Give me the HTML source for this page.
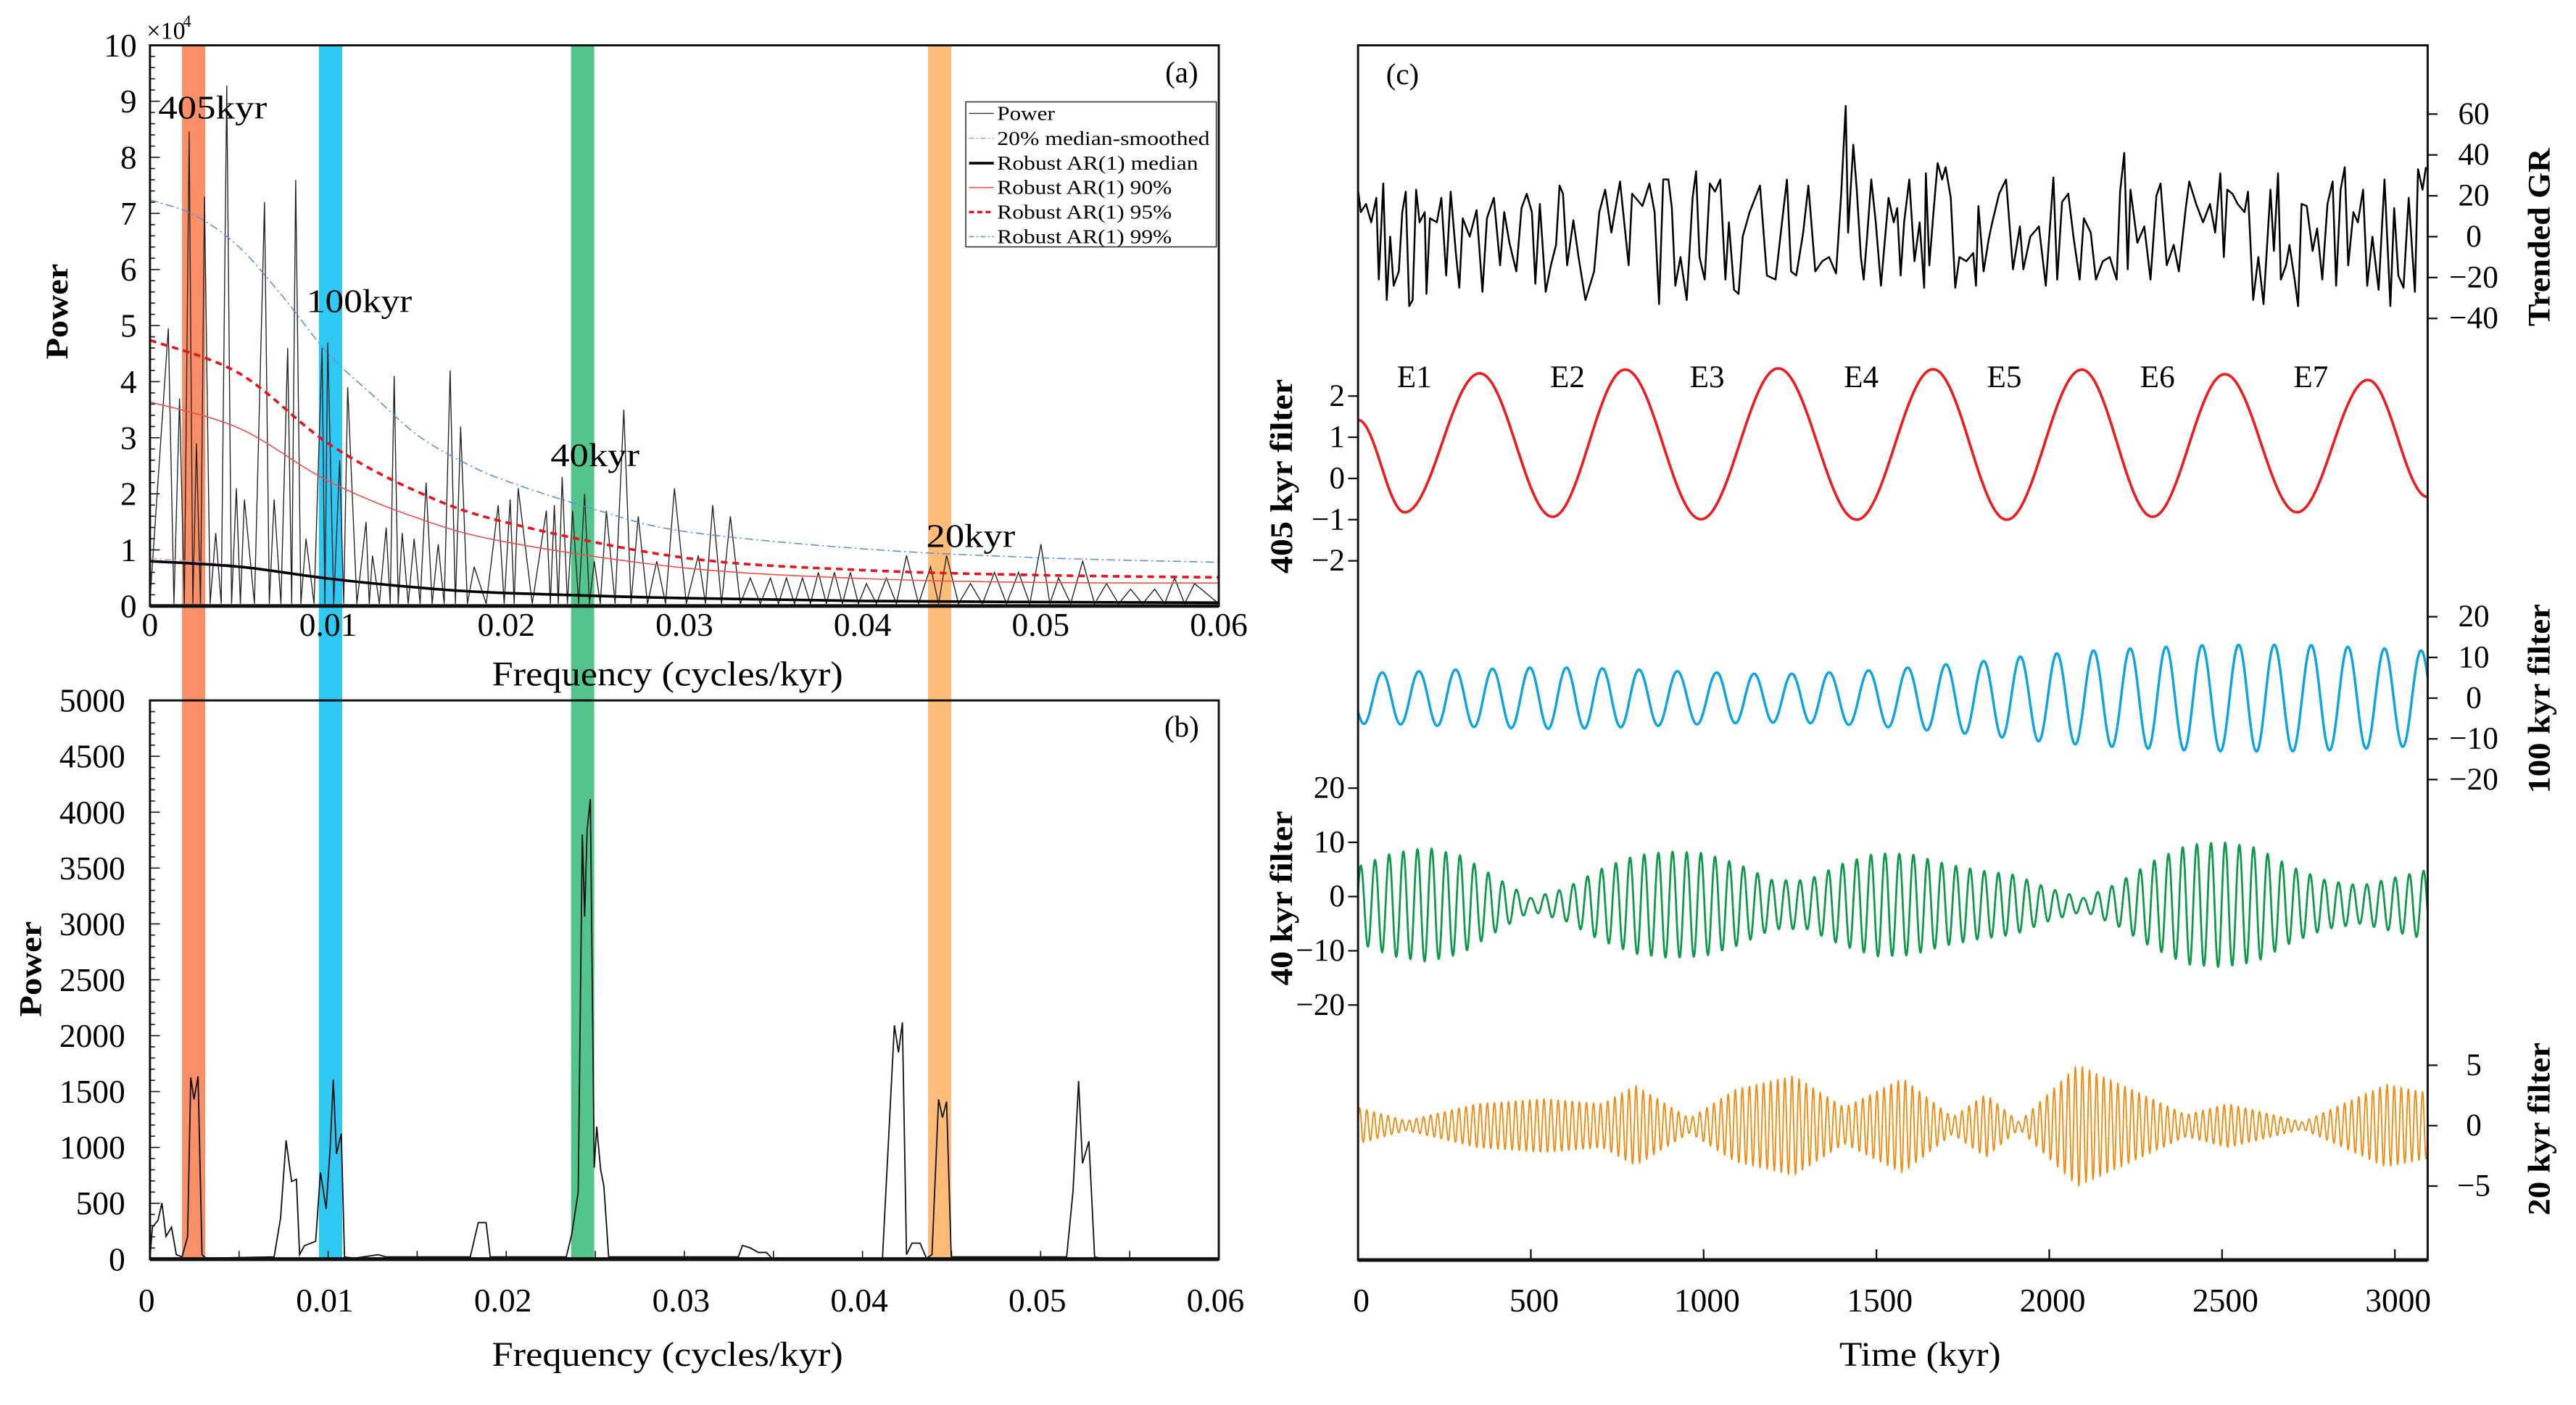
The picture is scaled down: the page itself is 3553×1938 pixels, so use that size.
<!DOCTYPE html>
<html><head><meta charset="utf-8"><style>
html,body{margin:0;padding:0;background:#fff;}
svg{display:block;}
text{font-family:"Liberation Serif","Times New Roman",serif;fill:#000;}
</style></head><body>
<svg id="svg" xmlns="http://www.w3.org/2000/svg" width="3553" height="1938" viewBox="0 0 1563 852.5" preserveAspectRatio="none"></svg>
<script>
// ---------- DATA ----------
// panel (a) power spectrum peaks (freq, power x1e4)
const peakF=[0.00103,0.00166,0.0022,0.00261,0.00306,0.00369,0.00431,0.00485,0.0053,0.00643,0.00697,0.00773,0.00818,0.00876,0.00966,0.00998,0.01065,0.0111,0.01213,0.01249,0.01326,0.01371,0.01416,0.01483,0.0155,0.01618,0.01685,0.01744,0.0182,0.01955,0.02022,0.02067,0.02225,0.0227,0.02314,0.02373,0.0244,0.02494,0.02562,0.0266,0.02741,0.02845,0.02944,0.03078,0.03159,0.03258,0.0337,0.03483,0.03573,0.03663,0.03752,0.03842,0.03932,0.04022,0.04134,0.04247,0.04382,0.04472,0.04606,0.04741,0.04876,0.05002,0.05101,0.05236,0.0537,0.05505,0.0564,0.05752,0.05864];
const peakP=[4.95,3.7,8.46,2.9,7.3,1.3,9.28,2.1,1.9,7.2,1.9,4.6,7.6,1.2,4.6,4.7,2.6,3.9,1.5,0.9,1.4,4.1,1.3,1.2,2.2,1.1,4.2,3.2,0.7,1.8,1.9,2.1,1.7,1.8,2.3,1.7,2.0,0.8,1.7,3.5,1.6,0.8,2.1,0.9,1.8,1.6,0.5,0.5,0.5,0.5,0.6,0.6,0.6,0.4,0.5,0.9,0.7,0.9,0.4,0.6,0.6,1.1,0.5,0.8,0.4,0.3,0.3,0.5,0.4];
const cF99=[0,0.0025,0.005,0.0075,0.01,0.0125,0.015,0.0175,0.02,0.025,0.03,0.04,0.05,0.06];
const c99=[7.24,6.97,6.4,5.5,4.5,3.76,3.05,2.58,2.23,1.72,1.33,1.02,0.86,0.78];
const cF=[0,0.005,0.01,0.015,0.02,0.03,0.04,0.05,0.06];
const c95=[4.74,4.15,2.9,2.04,1.49,0.86,0.64,0.55,0.51];
const c90=[3.64,3.17,2.23,1.57,1.14,0.68,0.49,0.42,0.41];
const cMed=[0.8,0.7,0.49,0.33,0.23,0.14,0.09,0.07,0.06];
const cSmooth=[0.85,0.72,0.5,0.33,0.22,0.14,0.09,0.07,0.06];
// panel (b)
const bF=[0,0.000135,0.00045,0.00067,0.0009,0.00121,0.00148,0.0018,0.00211,0.00229,0.00247,0.0027,0.00292,0.00315,0.00697,0.00733,0.00764,0.00795,0.00822,0.0084,0.00867,0.0093,0.00957,0.00989,0.01011,0.01029,0.01047,0.01074,0.01092,0.01146,0.01281,0.01326,0.01798,0.01843,0.01887,0.0191,0.02337,0.02368,0.02404,0.02427,0.0244,0.02454,0.02472,0.02494,0.02508,0.0253,0.02548,0.02575,0.03303,0.03326,0.03371,0.03415,0.0346,0.03492,0.04112,0.04179,0.04202,0.04224,0.04247,0.04278,0.04323,0.04359,0.0439,0.04427,0.04449,0.04472,0.04498,0.05146,0.05182,0.05213,0.05235,0.05271,0.05303,0.05348,0.06];
const bP=[10,286,347,503,204,286,40,20,200,1627,1430,1635,40,8,20,368,1063,695,715,40,120,160,777,450,980,1607,940,1124,20,8,40,20,20,327,327,20,20,225,600,3800,3066,3843,4117,818,1186,800,654,20,20,123,100,60,60,8,8,2093,1850,2118,40,143,143,8,40,1430,1267,1410,20,20,613,1594,858,1055,20,5,5];
const bandF=[[0.0018,0.0031],[0.00948,0.01079],[0.02364,0.02494],[0.04368,0.04498]];
const bandC=["#fa8f68","#2ec8f3","#52c48c","#fdbd78"];
const aTicksY=[0,1,2,3,4,5,6,7,8,9,10];
const bTicksY=[0,500,1000,1500,2000,2500,3000,3500,4000,4500,5000];
const fTicks=[0,0.01,0.02,0.03,0.04,0.05,0.06];
const fTickLabels=["0","0.01","0.02","0.03","0.04","0.05","0.06"];
// panel (c)
const grT=[0,8,23,38,53,60,73,83,93,103,118,128,138,148,158,168,178,193,198,208,228,241,255,268,283,293,303,323,343,360,373,393,411,423,438,458,473,488,503,513,526,543,558,573,583,593,605,623,638,658,683,698,715,733,758,783,793,823,843,858,871,883,898,908,918,933,951,968,978,988,1003,1018,1033,1048,1063,1073,1088,1101,1113,1133,1163,1183,1208,1228,1241,1253,1268,1288,1303,1323,1343,1363,1383,1398,1411,1418,1433,1443,1455,1463,1473,1485,1498,1513,1535,1550,1560,1570,1580,1595,1610,1625,1638,1643,1653,1665,1677,1690,1700,1715,1728,1740,1760,1780,1788,1795,1810,1825,1835,1855,1875,1895,1915,1925,1945,1970,1990,2012,2023,2037,2055,2070,2088,2100,2120,2135,2155,2175,2195,2205,2217,2227,2235,2255,2275,2293,2310,2322,2340,2360,2375,2395,2405,2425,2445,2465,2480,2495,2505,2515,2530,2545,2565,2575,2590,2605,2620,2640,2650,2662,2670,2685,2695,2710,2720,2730,2745,2762,2775,2790,2805,2820,2830,2843,2855,2865,2880,2893,2908,2920,2935,2953,2970,2987,2998,3010,3025,3040,3058,3067,3080,3090];
const grV=[23,12,16,7,19,-21,26,-31,0,-24,-17,12,22,-34,-31,23,7,12,-28,9,7,19,-19,22,-8,-25,9,0,13,-27,9,19,-14,12,-3,-17,14,21,12,-23,16,-27,-14,-4,25,21,-14,8,-10,-31,-17,12,23,2,27,-14,21,15,26,12,-33,28,28,14,-24,-10,-31,19,32,-10,-21,26,22,28,-21,7,-26,-28,0,12,25,-19,-21,9,28,-17,-19,2,25,-17,-12,-10,-18,21,64,2,45,23,-10,-21,0,28,7,-24,19,7,14,-19,7,28,-12,7,-25,31,-14,12,36,28,34,19,-25,-10,-12,-8,-24,15,-17,-1,7,21,28,-16,5,-16,0,5,-24,29,-21,17,21,0,-21,9,2,-21,-12,-10,-21,22,41,-16,23,-3,5,-21,20,26,-14,-4,-17,14,27,16,7,16,2,31,-10,23,21,16,12,22,-31,-10,-33,23,-7,31,-21,-14,-4,-21,-34,16,15,-7,4,-21,16,27,-24,23,34,-14,12,7,23,-24,0,-26,28,-34,14,-19,-25,19,-27,33,23,34];
const f405T=[0,135,352,563,773,992,1216,1443,1664,1877,2094,2299,2508,2717,2922,3095];
const f405V=[1.42,-0.82,2.55,-0.93,2.64,-0.99,2.67,-1.0,2.65,-1.0,2.64,-0.93,2.53,-0.82,2.39,-0.45];
const pk100T=[70,176,282,389,497,603,707,813,924,1038,1146,1255,1363,1477,1590,1701,1810,1916,2022,2128,2234,2338,2442,2548,2651,2758,2864,2970,3076];
const pk100A=[6.3,6.6,7,7.2,7.5,7.5,7.3,7,6.6,6.3,6.0,6.0,6.3,6.8,7.5,8.3,9.1,10.2,11,11.7,12.2,12.6,13,13.1,13.1,13,12.6,12.2,11.7];
const env40T=[0,100,200,300,400,500,600,700,800,900,1000,1100,1200,1300,1400,1500,1600,1700,1800,1900,2000,2100,2200,2300,2400,2500,2600,2700,2800,2900,3000,3100];
const env40A=[7,9.5,10.5,9,5,1.2,3,6.5,9,9.8,9.5,7.5,4.5,4.5,7.5,9.5,9.3,7.5,6.3,5.5,3,1.2,4,8,11,11.5,10.5,7,4.5,3.5,5,6.5];
const period40=41, phase40=8, mean40=-1.5;
const env20T=[0,140,345,538,707,803,960,1093,1262,1407,1576,1720,1817,1913,2082,2275,2396,2516,2733,2975,3095];
const env20A=[1.5,0.4,1.8,2.2,1.8,3.3,0.6,3,4.1,1.5,3.9,0.7,2.6,0.3,5,2.5,0.9,1.8,0.3,3.4,2.7];
const period20=20.5, phase20=5;
const timeTicks=[0,500,1000,1500,2000,2500,3000];
const grTicks=[60,40,20,0,-20,-40];
const t405Ticks=[2,1,0,-1,-2];
const t100Ticks=[20,10,0,-10,-20];
const t40Ticks=[20,10,0,-10,-20];
const t20Ticks=[5,0,-5];
const eLabels=["E1","E2","E3","E4","E5","E6","E7"];
const eLabelT=[163,606,1010,1456,1870,2313,2757];

// ---------- SCALES ----------
const fx=f=>91+f/0.06*648.5;
const ya=v=>367.7-v*34.03;
const yb=v=>764-v*339/5000;
const tx=t=>824+t*0.2097;
const yGR=v=>143.6-v*1.24;
const y405=v=>290.3-v*25;
const y100=v=>423.6-v*2.47;
const y40=v=>544-v*3.29;
const y20=v=>683-v*7.33;

const NS="http://www.w3.org/2000/svg";
const svg=document.getElementById('svg');
function mk(tag,parent){const e=document.createElementNS(NS,tag);(parent||svg).appendChild(e);return e;}
function set(e,o){for(const k in o)e.setAttribute(k,o[k]);return e;}
function lin(pts){return pts.map((p,i)=>(i?'L':'M')+p[0].toFixed(2)+' '+p[1].toFixed(2)).join('');}
function smooth(pts){let d='M'+pts[0][0]+' '+pts[0][1];for(let i=0;i<pts.length-1;i++){const p0=pts[Math.max(0,i-1)],p1=pts[i],p2=pts[i+1],p3=pts[Math.min(pts.length-1,i+2)];const c1=[p1[0]+(p2[0]-p0[0])/6,p1[1]+(p2[1]-p0[1])/6],c2=[p2[0]-(p3[0]-p1[0])/6,p2[1]-(p3[1]-p1[1])/6];d+='C'+c1[0].toFixed(2)+' '+c1[1].toFixed(2)+' '+c2[0].toFixed(2)+' '+c2[1].toFixed(2)+' '+p2[0].toFixed(2)+' '+p2[1].toFixed(2);}return d;}
function interp(T,A,t){if(t<=T[0])return A[0];for(let i=0;i<T.length-1;i++){if(t<=T[i+1]){const u=(t-T[i])/(T[i+1]-T[i]);return A[i]+(A[i+1]-A[i])*u;}}return A[A.length-1];}
function txt(s,x,y,size,anchor,extra){const e=mk('text');set(e,{x:x,y:y,'font-size':size,'text-anchor':anchor||'middle','dominant-baseline':'central'});if(extra)set(e,extra);e.textContent=s;return e;}

// ---------- BANDS ----------
bandF.forEach((b,i)=>{
  const r=mk('rect');set(r,{x:fx(b[0]),y:27.5,width:fx(b[1])-fx(b[0]),height:736.5,fill:bandC[i]});
  
  
});

// ---------- PANEL A ----------
{
  const pts=[[fx(0),ya(0.1)]];
  for(let i=0;i<peakF.length;i++){
    pts.push([fx(peakF[i]),ya(peakP[i])]);
    const nf=i<peakF.length-1?(peakF[i]+peakF[i+1])/2:0.06;
    pts.push([fx(nf),ya(0.04)]);
  }
  const p=mk('path');set(p,{d:lin(pts),fill:'none',stroke:'#222','stroke-width':0.6});
  
  
  const mkc=(F,V,attrs,name)=>{const c=mk('path');set(c,Object.assign({d:smooth(F.map((f,i)=>[fx(f),ya(V[i])])),fill:'none'},attrs));
    
    };
  mkc(cF99,c99,{stroke:'#5b8fd6','stroke-width':0.7,'stroke-dasharray':'5 2 1 2'},'ar1-99-curve');
  mkc(cF,cSmooth,{stroke:'#e58fc4','stroke-width':0.7,'stroke-dasharray':'4 2 1 2'},'median-smoothed-curve');
  mkc(cF,c90,{stroke:'#f0504a','stroke-width':0.7},'ar1-90-curve');
  mkc(cF,c95,{stroke:'#e8141a','stroke-width':1.6,'stroke-dasharray':'4 3'},'ar1-95-curve');
  mkc(cF,cMed,{stroke:'#000','stroke-width':1.6},'ar1-median-curve');
  const fr=mk('rect');set(fr,{x:91,y:27.5,width:648.5,height:340.2,fill:'none',stroke:'#111','stroke-width':1.3});
  
  
  const bl=mk('line');set(bl,{x1:91,x2:739.5,y1:367.7,y2:367.7,stroke:'#111','stroke-width':2.2});
  
  
  for(let v=0;v<=10.001;v+=0.2){const major=Math.abs(v-Math.round(v))<0.01;const l=mk('line');set(l,{x1:91,x2:91+(major?6:3),y1:ya(v),y2:ya(v),stroke:'#111','stroke-width':0.7});
    
    }
  aTicksY.forEach(v=>{const t=txt(String(v),83,ya(v),20,'end');
    
    });
  const ex=txt('×10',89,19,15,'start');
  
  
  const ex4=txt('4',111,13,10,'start');
  
  
  fTicks.forEach((f,i)=>{const t=txt(fTickLabels[i],fx(f),379,20);
    
    });
  const xt=txt('Frequency (cycles/kyr)',405,409,21,'middle',{textLength:213,lengthAdjust:'spacingAndGlyphs'});
  
  
  const yt=txt('Power',0,0,19,'middle',{transform:'translate(35,189) rotate(-90)','font-weight':'bold',textLength:58,lengthAdjust:'spacingAndGlyphs'});
  
  
  const pl=txt('(a)',717,44,18);
  
  
  [['405kyr',96,65,66],['100kyr',186,182.5,64],['40kyr',334,276,54],['20kyr',562,325,54]].forEach(a=>{
    const t=txt(a[0],a[1],a[2],20,'start',{textLength:a[3],lengthAdjust:'spacingAndGlyphs'});
    
    });
  // legend
  const lg=mk('g');
  
  
  const lb=mk('rect',lg);set(lb,{x:586,y:61.8,width:152,height:88,fill:'#fff',stroke:'#333','stroke-width':0.7});
  
  
  const items=[['Power',{stroke:'#333','stroke-width':0.6},35],['20% median-smoothed',{stroke:'#e58fc4','stroke-width':0.7,'stroke-dasharray':'3 1.5 1 1.5'},129],['Robust AR(1) median',{stroke:'#000','stroke-width':1.6},122],['Robust AR(1) 90%',{stroke:'#f0504a','stroke-width':0.7},106],['Robust AR(1) 95%',{stroke:'#e8141a','stroke-width':1.5,'stroke-dasharray':'3 2'},106],['Robust AR(1) 99%',{stroke:'#5b8fd6','stroke-width':0.7,'stroke-dasharray':'3 1.5 1 1.5'},106]];
  const ly=[68.8,84,99,113.8,128.7,143.6];
  items.forEach((it,i)=>{
    const l=mk('line',lg);set(l,Object.assign({x1:588,x2:603,y1:ly[i],y2:ly[i]},it[1]));
    
    
    const t=mk('text',lg);set(t,{x:605,y:ly[i],'font-size':12,'dominant-baseline':'central',textLength:it[2],lengthAdjust:'spacingAndGlyphs'});t.textContent=it[0];
    
    
  });
}

// ---------- PANEL B ----------
{
  const p=mk('path');set(p,{d:lin(bF.map((f,i)=>[fx(f),yb(bP[i])])),fill:'none',stroke:'#111','stroke-width':0.8});
  
  
  const fr=mk('rect');set(fr,{x:91,y:425,width:648.5,height:339,fill:'none',stroke:'#111','stroke-width':1.3});
  
  
  const bl=mk('line');set(bl,{x1:91,x2:739.5,y1:764,y2:764,stroke:'#111','stroke-width':2.4});
  
  
  for(let v=0;v<=5000;v+=100){const major=v%500===0;const l=mk('line');set(l,{x1:91,x2:91+(major?6:3),y1:yb(v),y2:yb(v),stroke:'#111','stroke-width':0.7});
    
    }
  for(let f=0.005;f<0.06;f+=0.005){const l=mk('line');set(l,{x1:fx(f),x2:fx(f),y1:764,y2:759,stroke:'#111','stroke-width':0.7});
    
    }
  bTicksY.forEach(v=>{const t=txt(String(v),76,yb(v),20,'end');
    
    });
  fTicks.forEach((f,i)=>{const t=txt(fTickLabels[i],fx(f)-2,789,20);
    
    });
  const xt=txt('Frequency (cycles/kyr)',405,822,21,'middle',{textLength:213,lengthAdjust:'spacingAndGlyphs'});
  
  
  const yt=txt('Power',0,0,19,'middle',{transform:'translate(19,588) rotate(-90)','font-weight':'bold',textLength:58,lengthAdjust:'spacingAndGlyphs'});
  
  
  const pl=txt('(b)',717,441,18);
  
  
}

// ---------- PANEL C ----------
{
  const gr=mk('path');set(gr,{d:lin(grT.map((t,i)=>[tx(t),yGR(grV[i])])),fill:'none',stroke:'#000','stroke-width':1.1,'stroke-linejoin':'round'});
  
  
  // 405
  const p405=[];
  for(let i=0;i<f405T.length-1;i++){for(let t=f405T[i];t<f405T[i+1];t+=2){const u=(t-f405T[i])/(f405T[i+1]-f405T[i]);const v=f405V[i]+(f405V[i+1]-f405V[i])*(1-Math.cos(Math.PI*u))/2;p405.push([tx(t),y405(v)]);}}
  p405.push([tx(f405T[f405T.length-1]),y405(f405V[f405V.length-1])]);
  const l405=mk('path');set(l405,{d:lin(p405),fill:'none',stroke:'#ee1c1c','stroke-width':1.6});
  
  
  // 100
  const p100=[];const P0=pk100T[1]-pk100T[0];
  for(let t=0;t<=3095;t+=1){let ph;
    if(t<pk100T[0])ph=(t-pk100T[0])/P0;
    else if(t>=pk100T[pk100T.length-1])ph=(t-pk100T[pk100T.length-1])/(pk100T[pk100T.length-1]-pk100T[pk100T.length-2]);
    else{for(let i=0;i<pk100T.length-1;i++){if(t<pk100T[i+1]){ph=(t-pk100T[i])/(pk100T[i+1]-pk100T[i]);break;}}}
    const A=interp(pk100T,pk100A,t);p100.push([tx(t),y100(A*Math.cos(2*Math.PI*ph))]);}
  const l100=mk('path');set(l100,{d:lin(p100),fill:'none',stroke:'#0aa3e6','stroke-width':1.5});
  
  
  // 40
  const p40=[];
  for(let t=0;t<=3095;t+=0.75){const A=interp(env40T,env40A,t);p40.push([tx(t),y40(mean40+A*Math.cos(2*Math.PI*(t-phase40)/period40))]);}
  const l40=mk('path');set(l40,{d:lin(p40),fill:'none',stroke:'#0c9a48','stroke-width':1.2});
  
  
  // 20
  const p20=[];
  for(let t=0;t<=3095;t+=0.4){const A=interp(env20T,env20A,t);p20.push([tx(t),y20(A*Math.cos(2*Math.PI*(t-phase20)/period20))]);}
  const l20=mk('path');set(l20,{d:lin(p20),fill:'none',stroke:'#f28a0c','stroke-width':0.8});
  
  

  const fr=mk('rect');set(fr,{x:824,y:27.5,width:649,height:737,fill:'none',stroke:'#111','stroke-width':1.3});
  
  
  const bl=mk('line');set(bl,{x1:824,x2:1473,y1:764.5,y2:764.5,stroke:'#111','stroke-width':2.2});
  
  
  timeTicks.forEach(t=>{const l=mk('line');set(l,{x1:tx(t),x2:tx(t),y1:764.5,y2:758,stroke:'#111','stroke-width':1});
    
    
    const s=txt(String(t),tx(t)+2,789,20);
    
    });
  const tt=txt('Time (kyr)',1165,822,21,'middle',{textLength:98,lengthAdjust:'spacingAndGlyphs'});
  
  
  const mn=v=>v<0?'−'+(-v):String(v);
  const rightAxis=(ticks,sc,name)=>ticks.forEach(v=>{const l=mk('line');set(l,{x1:1473,x2:1479,y1:sc(v),y2:sc(v),stroke:'#111','stroke-width':1});
    
    
    const s=txt(mn(v),1501,sc(v),19);
    
    });
  const leftAxis=(ticks,sc,name)=>ticks.forEach(v=>{const l=mk('line');set(l,{x1:824,x2:818,y1:sc(v),y2:sc(v),stroke:'#111','stroke-width':1});
    
    
    const s=txt(mn(v),816,sc(v),19,'end');
    
    });
  rightAxis(grTicks,yGR,'gr-axis');
  leftAxis(t405Ticks,y405,'f405-axis');
  rightAxis(t100Ticks,y100,'f100-axis');
  leftAxis(t40Ticks,y40,'f40-axis');
  rightAxis(t20Ticks,y20,'f20-axis');
  const rt=(s,x,y,len,name)=>{const e=txt(s,0,0,19,'middle',{transform:'translate('+x+','+y+') rotate(-90)','font-weight':'bold',textLength:len,lengthAdjust:'spacingAndGlyphs'});
    
    };
  rt('Trended GR',1541,144,108,'gr-axis-title');
  rt('405 kyr filter',778,289,118,'f405-axis-title');
  rt('100 kyr filter',1541,424,115,'f100-axis-title');
  rt('40 kyr filter',778,545,106,'f40-axis-title');
  rt('20 kyr filter',1541,685,105,'f20-axis-title');
  eLabels.forEach((s,i)=>{const e=txt(s,tx(eLabelT[i]),229,19);
    
    });
  const pl=txt('(c)',851,45,18);
  
  
}
</script>
</body></html>
